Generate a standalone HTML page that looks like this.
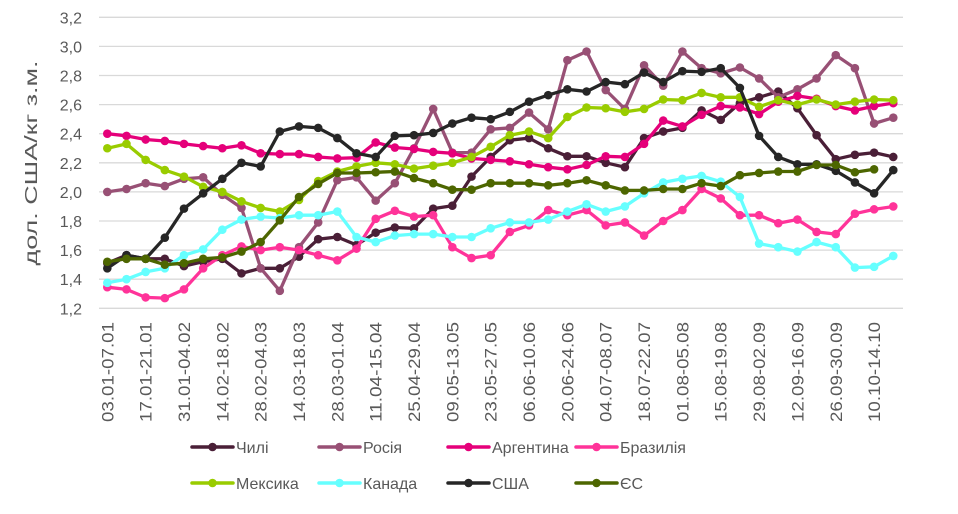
<!DOCTYPE html>
<html><head><meta charset="utf-8"><style>
body{margin:0;background:#fff}
svg text{font-family:"Liberation Sans","DejaVu Sans",sans-serif;fill:#595959}
</style></head><body>
<svg id="c" width="958" height="509" xmlns="http://www.w3.org/2000/svg"></svg>
<script>
const S=document.getElementById('c');const NS='http://www.w3.org/2000/svg';
function el(t,a,txt){const e=document.createElementNS(NS,t);for(const k in a)e.setAttribute(k,a[k]);if(txt!==undefined)e.textContent=txt;S.appendChild(e);return e;}
const Y=v=>17.3+(3.2-v)*145.5, X=i=>107.3+19.17*i;
for(let k=0;k<=10;k++){const v=1.2+0.2*k,y=Y(v);el('line',{x1:99,x2:903,y1:y,y2:y,stroke:'#d9d9d9','stroke-width':1.3});
el('text',{x:82,y:y+6,'text-anchor':'end','font-size':16},v.toFixed(1).replace('.',','));}
const labs=['03.01-07.01','17.01-21.01','31.01-04.02','14.02-18.02','28.02-04.03','14.03-18.03','28.03-01.04','11.04-15.04','25.04-29.04','09.05-13.05','23.05-27.05','06.06-10.06','20.06-24.06','04.07-08.07','18.07-22.07','01.08-05.08','15.08-19.08','29.08-02.09','12.09-16.09','26.09-30.09','10.10-14.10'];
labs.forEach((l,j)=>{const x=X(2*j)+6;el('text',{x:x,y:322,transform:`rotate(-90 ${x} 322)`,'text-anchor':'end','font-size':16.5,textLength:100,lengthAdjust:'spacingAndGlyphs'},l);});
el('text',{x:37,y:163,transform:'rotate(-90 37 163)','text-anchor':'middle','font-size':17.5,textLength:205,lengthAdjust:'spacingAndGlyphs'},'дол. США/кг з.м.');
const D=[
['Чилі','#4a1f37',[1.51,1.565,1.54,1.54,1.49,1.52,1.54,1.44,1.475,1.475,1.555,1.675,1.69,1.635,1.72,1.755,1.75,1.885,1.905,2.105,2.24,2.355,2.37,2.30,2.245,2.245,2.20,2.17,2.37,2.415,2.44,2.56,2.495,2.61,2.65,2.69,2.575,2.39,2.225,2.255,2.27,2.24]],
['Росія','#985075',[2.00,2.02,2.06,2.04,2.09,2.10,1.98,1.89,1.475,1.32,1.62,1.79,2.08,2.10,1.94,2.06,2.30,2.57,2.27,2.27,2.43,2.44,2.545,2.43,2.905,2.965,2.70,2.57,2.87,2.73,2.965,2.85,2.815,2.855,2.78,2.65,2.705,2.78,2.94,2.85,2.47,2.51]],
['Аргентина','#e5007a',[2.40,2.385,2.36,2.35,2.33,2.315,2.30,2.32,2.265,2.26,2.26,2.24,2.23,2.235,2.34,2.305,2.295,2.275,2.265,2.23,2.22,2.21,2.19,2.17,2.155,2.185,2.245,2.24,2.33,2.49,2.45,2.53,2.59,2.58,2.535,2.62,2.66,2.64,2.59,2.56,2.59,2.61]],
['Бразилія','#ff3399',[1.345,1.33,1.275,1.27,1.33,1.475,1.565,1.625,1.60,1.62,1.60,1.565,1.53,1.61,1.815,1.87,1.83,1.84,1.62,1.545,1.565,1.725,1.77,1.875,1.84,1.875,1.77,1.79,1.70,1.80,1.875,2.02,1.955,1.84,1.84,1.785,1.81,1.725,1.71,1.85,1.88,1.90]],
['Мексика','#99cc00',[2.30,2.33,2.22,2.15,2.105,2.035,2.00,1.935,1.89,1.865,1.945,2.075,2.14,2.175,2.20,2.19,2.16,2.18,2.20,2.24,2.31,2.39,2.415,2.37,2.515,2.58,2.575,2.55,2.57,2.635,2.63,2.68,2.65,2.65,2.585,2.63,2.60,2.635,2.60,2.62,2.635,2.63]],
['Канада','#66ffff',[1.375,1.40,1.45,1.475,1.565,1.605,1.74,1.81,1.83,1.82,1.84,1.84,1.865,1.69,1.655,1.70,1.71,1.71,1.69,1.69,1.75,1.79,1.79,1.81,1.865,1.915,1.865,1.90,1.99,2.065,2.09,2.11,2.07,1.965,1.645,1.62,1.59,1.655,1.62,1.48,1.485,1.56]],
['США','#262626',[1.475,1.565,1.54,1.685,1.885,1.99,2.09,2.20,2.175,2.415,2.45,2.44,2.37,2.265,2.24,2.385,2.39,2.405,2.47,2.51,2.50,2.55,2.62,2.665,2.705,2.69,2.755,2.74,2.82,2.755,2.83,2.825,2.85,2.715,2.385,2.24,2.19,2.19,2.145,2.065,1.99,2.15]],
['ЄС','#4d6600',[1.52,1.54,1.54,1.50,1.51,1.54,1.55,1.59,1.655,1.805,1.965,2.055,2.13,2.13,2.135,2.14,2.095,2.06,2.015,2.015,2.06,2.06,2.06,2.045,2.06,2.08,2.045,2.01,2.01,2.02,2.02,2.06,2.04,2.115,2.13,2.14,2.14,2.185,2.185,2.135,2.155]]];
D.forEach(([n,c,v])=>{el('polyline',{points:v.map((a,i)=>X(i).toFixed(1)+','+Y(a).toFixed(1)).join(' '),fill:'none',stroke:c,'stroke-width':3.3,'stroke-linejoin':'round'});
v.forEach((a,i)=>el('circle',{cx:X(i),cy:Y(a),r:4.3,fill:c}));});
const cols=[192,319,448,576];
D.forEach(([n,c],k)=>{const x=cols[k%4],y=k<4?447:483;el('line',{x1:x,x2:x+41,y1:y,y2:y,stroke:c,'stroke-width':3.5,'stroke-linecap':'round'});el('circle',{cx:x+20.5,cy:y,r:4.3,fill:c});el('text',{x:x+44,y:y+6,'font-size':16},n);});
</script>
</body></html>
